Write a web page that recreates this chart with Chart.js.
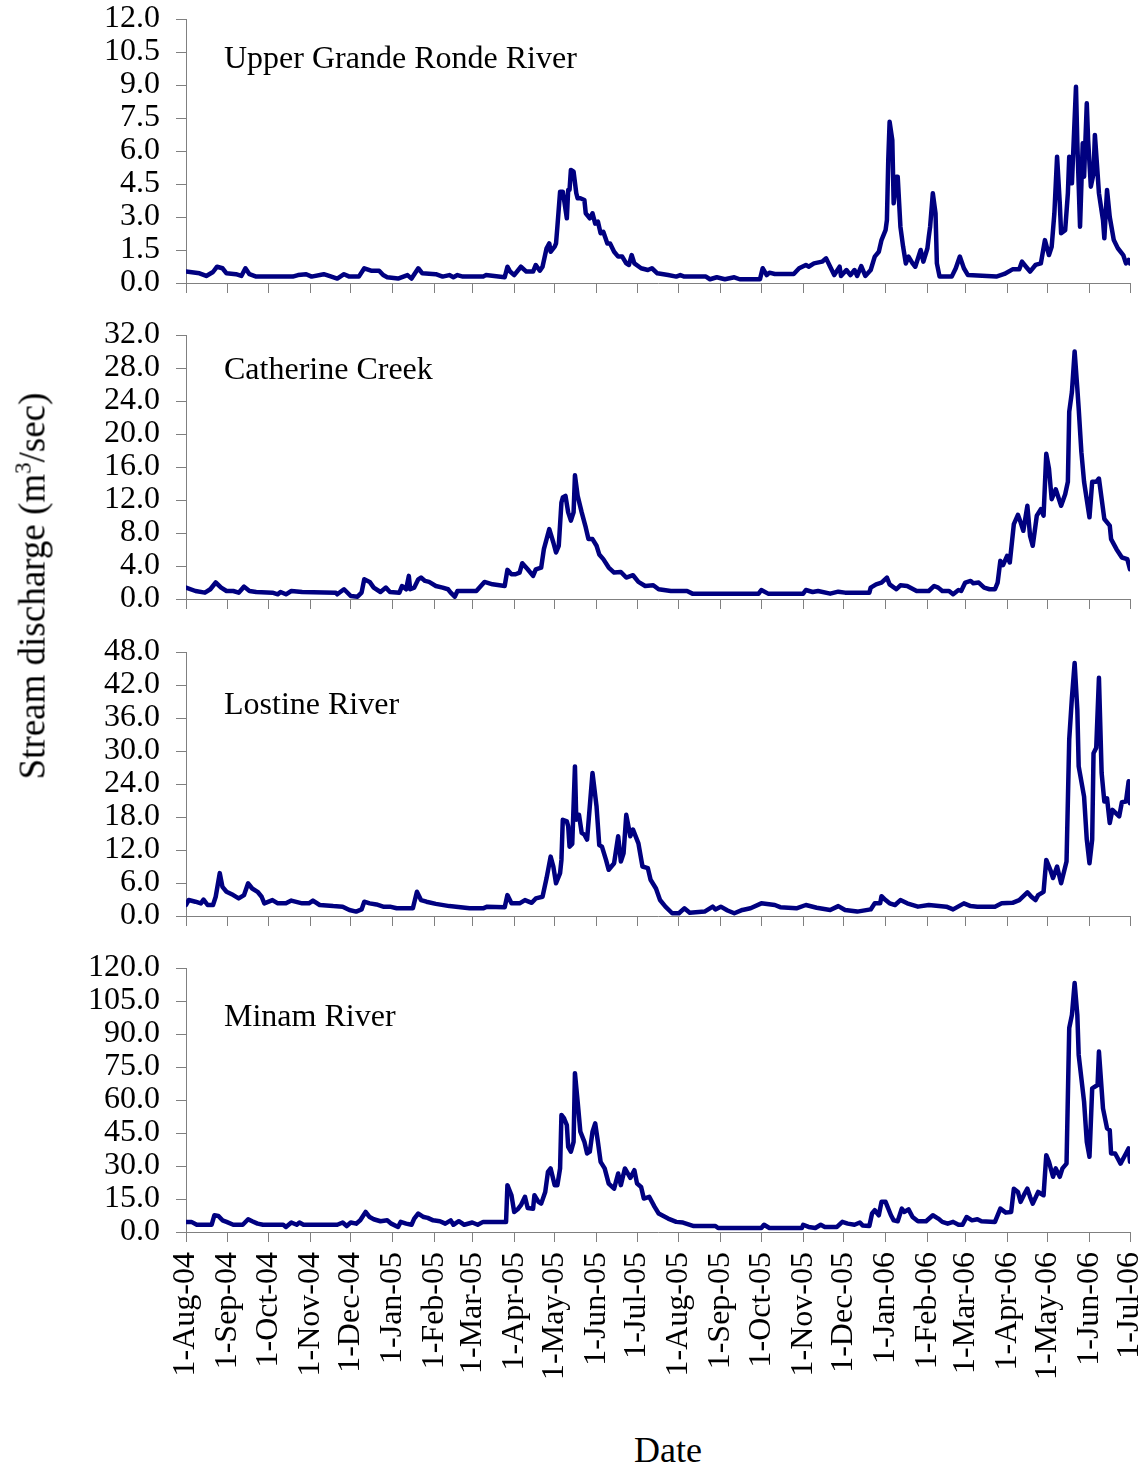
<!DOCTYPE html>
<html>
<head>
<meta charset="utf-8">
<script src="https://cdn.jsdelivr.net/npm/chart.js@4.4.1/dist/chart.umd.min.js"></script>
<style>
  body { margin: 0; background: #fff; width: 1146px; height: 1469px; position: relative; overflow: hidden;
         font-family: 'Liberation Serif', 'Times New Roman', serif; color: #000; }
  .panel { position: absolute; left: 0; width: 1146px; }
  #ytitle { position: absolute; left: 32px; top: 586px; transform: translate(-50%, -50%) rotate(-90deg);
            white-space: nowrap; font-size: 37px; }
  #ytitle sup { font-size: 23px; vertical-align: 14px; line-height: 0; }
  #xtitle { position: absolute; left: 668px; top: 1450px; transform: translate(-50%, -50%); font-size: 36px; }
</style>
</head>
<body>
<div class="panel" style="top:-6px;height:309px"><canvas id="ugr"></canvas></div>
<div class="panel" style="top:310px;height:309px"><canvas id="cat"></canvas></div>
<div class="panel" style="top:627px;height:309px"><canvas id="los"></canvas></div>
<div class="panel" style="top:943px;height:457px"><canvas id="min"></canvas></div>
<div id="ytitle">Stream discharge (m<sup>3</sup>/sec)</div>
<div id="xtitle">Date</div>

<script>
// x values are days since 1-Aug-04
const tickDays = [0, 31, 61, 92, 122, 153, 184, 212, 243, 273, 304, 334,
                  365, 396, 426, 457, 487, 518, 549, 577, 608, 638, 669, 699];
const tickLabels = ['1-Aug-04', '1-Sep-04', '1-Oct-04', '1-Nov-04', '1-Dec-04', '1-Jan-05',
                    '1-Feb-05', '1-Mar-05', '1-Apr-05', '1-May-05', '1-Jun-05', '1-Jul-05',
                    '1-Aug-05', '1-Sep-05', '1-Oct-05', '1-Nov-05', '1-Dec-05', '1-Jan-06',
                    '1-Feb-06', '1-Mar-06', '1-Apr-06', '1-May-06', '1-Jun-06', '1-Jul-06'];

const riverNames = ['Upper Grande Ronde River', 'Catherine Creek', 'Lostine River', 'Minam River'];
const yMaxes = [12, 32, 48, 120];
const ySteps = [1.5, 4, 6, 15];

const ugrDays = [0,10,15,20,23,27,30,37,41,44,47,52,79,83,89,93,102,106,112,117,121,128,132,137,143,146,149,157,
  164,167,172,175,185,190,195,198,201,205,220,222,236,238,240,243,248,252,257,259,262,264,267,269,270,273,274,275,
  277,279,280,282,283,284,285,287,289,290,292,295,296,299,301,303,305,307,309,312,314,317,320,323,326,328,330,332,
  337,342,345,349,357,363,366,369,385,388,393,399,406,410,425,427,430,432,436,450,454,459,461,465,471,474,477,480,
  484,485,489,492,495,497,500,503,507,510,513,515,518,519,520,521,523,524,526,527,529,531,533,535,538,540,544,546,
  549,550,551,553,555,556,558,567,570,573,576,579,600,606,612,617,619,622,625,629,633,636,639,641,643,645,647,648,
  651,653,654,656,659,660,662,664,665,667,668,670,672,673,675,676,679,680,682,684,687,690,694,696,698,699];
const ugrFlow = [0.52,0.44,0.32,0.5,0.74,0.67,0.44,0.4,0.32,0.67,0.4,0.29,0.29,0.36,0.4,0.29,0.4,0.32,0.2,0.4,0.29,
  0.29,0.67,0.56,0.56,0.36,0.26,0.2,0.36,0.2,0.67,0.44,0.4,0.29,0.36,0.26,0.36,0.29,0.29,0.36,0.26,0.74,0.52,0.36,
  0.74,0.52,0.52,0.82,0.56,0.74,1.58,1.8,1.42,1.65,1.8,2.56,4.15,4.15,3.77,2.94,4.23,4.23,5.14,5.06,4.08,3.85,3.85,
  3.77,3.17,2.94,3.17,2.7,2.79,2.26,2.33,1.8,1.8,1.42,1.2,1.2,0.89,0.82,1.27,0.89,0.67,0.59,0.67,0.44,0.36,0.29,
  0.36,0.29,0.29,0.17,0.26,0.17,0.26,0.17,0.17,0.67,0.36,0.47,0.41,0.41,0.67,0.82,0.74,0.89,0.97,1.12,0.74,0.36,
  0.74,0.32,0.59,0.36,0.59,0.32,0.77,0.32,0.59,1.2,1.42,1.95,2.4,2.86,5.59,7.33,6.5,3.62,4.83,4.83,2.56,1.65,0.89,
  1.2,0.89,0.74,1.5,0.97,1.58,2.1,2.56,4.08,3.17,0.89,0.29,0.29,0.67,1.2,0.67,0.36,0.29,0.41,0.62,0.62,0.97,0.74,
  0.52,0.82,0.89,1.95,1.27,1.65,3.17,5.74,3.62,2.26,2.4,4.08,5.74,4.53,8.92,6.35,2.56,6.35,4.83,8.17,6.5,4.38,4.98,
  6.73,4.98,4.08,2.86,2.03,4.23,3.0,1.95,1.58,1.27,0.89,1.05,0.89];

const catDays = [0,7,14,18,22,26,30,35,39,43,47,52,64,68,70,74,78,86,111,112,117,122,127,130,132,136,139,144,148,
  151,158,160,163,165,166,169,172,174,177,180,185,190,194,196,199,201,215,221,227,236,238,241,244,247,249,253,257,
  259,263,265,269,272,274,276,278,279,281,283,285,287,288,290,293,296,298,301,304,306,309,313,317,322,326,331,335,
  340,346,350,359,371,375,424,426,431,457,459,464,468,477,483,488,506,507,511,515,519,521,526,529,534,541,550,554,
  557,560,565,568,572,574,577,581,583,587,591,595,599,601,603,605,608,610,613,616,618,620,623,625,627,630,633,635,
  637,639,641,644,648,651,653,654,656,658,660,661,663,665,669,671,674,676,680,684,685,689,693,697,699];
const catFlow = [1.38,0.97,0.77,1.18,2.0,1.38,0.97,0.97,0.77,1.5,0.97,0.85,0.77,0.57,0.85,0.57,0.97,0.85,0.77,0.57,
  1.18,0.36,0.28,0.77,2.39,2.07,1.38,0.85,1.38,0.85,0.77,1.58,1.18,2.8,1.18,1.38,2.39,2.6,2.19,2.07,1.58,1.38,1.18,
  0.77,0.28,0.97,0.97,2.07,1.78,1.58,3.53,3.0,3.0,3.2,4.34,3.6,2.8,3.6,3.81,6.04,8.47,6.85,5.64,6.45,11.7,12.3,
  12.5,10.5,9.5,10.5,15.0,12.5,10.5,8.68,7.26,7.26,6.45,5.4,4.83,3.81,3.2,3.28,2.6,2.88,2.07,1.58,1.66,1.18,0.97,
  0.97,0.65,0.65,1.09,0.65,0.65,1.09,0.85,0.97,0.65,0.89,0.77,0.77,1.38,1.78,1.99,2.6,1.78,1.18,1.66,1.58,0.97,
  0.97,1.58,1.38,0.97,0.97,0.57,1.09,0.97,1.99,2.19,1.9,1.99,1.38,1.18,1.18,1.99,4.62,4.1,5.23,4.42,9.08,10.2,9.29,
  8.27,11.3,7.66,6.45,10.1,10.9,10.1,17.6,15.8,12.1,13.3,11.3,12.7,14.2,22.7,25.1,30.0,25.5,23.1,17.8,14.2,9.9,
  14.2,14.2,14.6,9.7,8.9,7.26,6.04,5.03,4.83,3.6];

const losDays = [0,2,7,11,13,16,20,22,25,27,30,35,39,43,46,49,53,56,58,64,68,74,78,86,91,94,99,109,116,121,126,
  130,132,136,141,146,151,156,168,171,174,178,185,195,200,210,220,223,236,238,241,247,251,256,259,264,267,270,272,
  274,277,278,279,282,283,284,286,288,289,291,293,295,297,301,304,306,308,311,313,317,320,322,324,326,329,331,335,
  338,342,344,348,351,355,360,365,369,373,384,390,392,396,401,406,412,418,426,436,440,452,459,467,477,483,488,497,
  507,510,514,515,518,521,525,529,534,542,550,563,568,576,581,586,599,604,612,617,623,626,629,631,635,637,640,642,
  645,648,652,654,656,658,660,661,665,667,669,671,672,674,676,678,680,682,684,686,691,693,696,698,699];
const losFlow = [2.0,2.9,2.6,2.3,3.0,2.0,2.0,3.5,7.8,5.3,4.4,3.8,3.2,3.8,5.95,5.0,4.4,3.5,2.3,2.9,2.3,2.3,2.8,2.3,
  2.3,2.8,2.0,1.8,1.7,1.1,0.8,1.2,2.6,2.3,2.1,1.7,1.7,1.4,1.4,4.4,2.9,2.6,2.2,1.8,1.7,1.4,1.4,1.7,1.6,3.8,2.3,2.3,
  2.9,2.4,3.2,3.5,6.9,10.8,9.0,5.95,7.8,10.2,17.5,17.2,16.3,12.6,13.1,27.2,17.5,18.4,15.1,14.8,13.9,26.0,19.9,12.9,
  12.6,10.2,8.4,9.6,14.5,9.9,11.4,18.4,14.5,15.7,13.2,9.0,8.7,6.6,5.0,2.9,1.7,0.5,0.5,1.4,0.6,0.8,1.7,1.2,1.7,1.0,
  0.5,1.1,1.4,2.3,2.0,1.6,1.4,2.0,1.5,1.1,1.8,1.1,0.8,1.2,2.3,2.3,3.6,2.9,2.3,2.0,2.9,2.3,1.7,2.0,1.7,1.2,2.3,1.8,
  1.7,1.7,2.3,2.4,2.9,4.3,3.5,2.9,3.8,4.4,10.2,8.4,6.9,9.0,5.95,9.9,32.1,39.7,46.0,37.5,27.2,21.7,13.9,9.6,13.9,
  29.6,30.6,43.3,26.0,20.8,21.4,16.9,19.3,18.1,20.7,20.8,24.5,20.5];

const minDays = [0,4,8,19,21,24,27,30,35,42,46,49,53,57,72,74,78,82,84,87,112,116,119,122,126,129,133,136,139,144,
  149,152,157,159,163,167,169,172,176,179,183,188,192,196,198,202,206,212,216,220,237,238,241,243,246,248,251,253,
  257,258,261,263,266,268,270,273,275,277,278,280,282,283,285,287,288,290,292,295,297,299,301,303,305,307,310,313,
  317,320,322,325,329,332,334,337,339,343,347,350,357,363,368,376,392,394,426,428,432,456,457,461,466,470,473,482,
  486,490,495,499,501,506,508,510,513,515,518,522,524,527,530,532,535,538,542,548,553,557,560,564,568,572,575,578,
  582,586,589,599,603,607,611,613,616,618,621,623,625,627,631,635,637,639,642,644,647,649,652,654,656,658,660,661,
  665,667,669,671,675,676,679,682,684,685,688,692,696,698,699];
const minFlow = [4.6,4.6,3.3,3.3,7.6,7.3,5.3,4.6,3.3,3.3,5.8,4.9,3.8,3.3,3.3,2.3,4.3,3.3,4.3,3.3,3.3,4.3,2.7,4.3,3.8,
  5.3,9.1,6.8,5.8,4.9,5.3,3.8,2.3,4.6,3.8,3.3,6.1,8.4,6.8,6.4,5.3,4.9,3.8,5.3,3.3,4.9,3.3,4.3,3.3,4.6,4.6,21.3,16.7,
  9.1,10.6,12.2,16.0,10.9,10.6,16.7,13.7,12.9,18.2,27.3,28.9,21.3,21.3,28.9,53.2,51.6,48.6,38.7,36.5,41.0,72.2,59.2,
  45.6,41.0,35.7,36.5,45.6,49.4,41.0,31.9,28.9,22.0,19.7,26.6,21.3,28.9,24.6,28.1,22.0,20.5,15.2,16.0,11.4,8.4,6.1,
  4.6,4.3,2.7,2.7,1.8,1.8,3.3,1.8,1.8,3.3,2.3,1.8,3.3,2.3,2.3,4.6,3.8,3.3,4.3,3.0,2.7,8.4,9.9,7.6,13.7,13.7,7.6,5.3,
  4.9,10.6,9.1,10.3,6.8,4.9,4.9,7.6,6.1,4.6,3.8,4.6,3.3,3.3,6.8,5.3,5.8,4.9,4.6,10.6,8.8,9.1,19.7,18.2,13.7,17.5,
  19.7,16.0,12.9,18.2,16.7,34.9,31.9,25.1,28.9,25.1,28.9,31.1,92.7,98.7,113.2,98.7,80.5,59.2,41.0,34.2,65.3,66.8,
  82.0,56.2,47.1,46.3,35.7,35.7,31.1,35.7,38.0,31.9];

Chart.defaults.font.family = "'Liberation Serif', 'Times New Roman', serif";
Chart.defaults.color = '#000';
Chart.defaults.animation = false;

const AXIS = '#808080';

// panel name inside the plot, and the rotated month labels under the last panel
const panelText = {
  id: 'panelText',
  afterDraw(chart, args, opts) {
    const ctx = chart.ctx, area = chart.chartArea;
    ctx.save();
    ctx.fillStyle = '#000';
    ctx.font = "32px 'Liberation Serif', 'Times New Roman', serif";
    ctx.textBaseline = 'alphabetic';
    ctx.fillText(opts.title, area.left + 38, area.top + opts.titleY);
    if (opts.dates) {
      const xs = chart.scales.x;
      ctx.textAlign = 'right';
      ctx.textBaseline = 'middle';
      tickDays.forEach((d, i) => {
        ctx.save();
        ctx.translate(xs.getPixelForValue(d), area.bottom + 20);
        ctx.rotate(-Math.PI / 2);
        ctx.fillText(tickLabels[i], 0, 0);
        ctx.restore();
      });
    }
    ctx.restore();
  }
};

function makePanel(id, idx, days, flow, titleY, dates) {
  new Chart(document.getElementById(id), {
    type: 'line',
    data: {
      datasets: [{
        data: days.map((d, i) => ({ x: d, y: flow[i] })),
        borderColor: '#000080',
        borderWidth: 4.5,
        pointRadius: 0,
        tension: 0,
        borderJoinStyle: 'round',
        borderCapStyle: 'round'
      }]
    },
    options: {
      responsive: true,
      maintainAspectRatio: false,
      layout: { padding: { left: 0, right: 16, top: 25, bottom: dates ? 158 : 10 } },
      plugins: {
        legend: { display: false },
        tooltip: { enabled: false },
        panelText: { title: riverNames[idx], titleY: titleY, dates: dates }
      },
      scales: {
        x: {
          type: 'linear',
          min: 0,
          max: 699,
          afterBuildTicks: s => { s.ticks = tickDays.map(v => ({ value: v })); },
          afterFit: s => { s.height = 10; s.paddingLeft = 0; s.paddingRight = 0; },
          ticks: { display: false },
          grid: { drawOnChartArea: false, drawTicks: true, tickLength: 10, color: AXIS, lineWidth: 1 },
          border: { color: AXIS, width: 1 }
        },
        y: {
          min: 0,
          max: yMaxes[idx],
          // fixed width, and no extra room for the half labels at the ends
          afterFit: s => { s.width = 186; s.paddingTop = 0; s.paddingBottom = 0; },
          ticks: {
            stepSize: ySteps[idx],
            autoSkip: false,
            padding: 16,
            font: { size: 32, lineHeight: 1 },
            callback: v => v.toFixed(1)
          },
          grid: { drawOnChartArea: false, drawTicks: true, tickLength: 10, color: AXIS, lineWidth: 1 },
          border: { color: AXIS, width: 1 }
        }
      }
    },
    plugins: [panelText]
  });
}

makePanel('ugr', 0, ugrDays, ugrFlow, 49, false);
makePanel('cat', 1, catDays, catFlow, 44, false);
makePanel('los', 2, losDays, losFlow, 62, false);
makePanel('min', 3, minDays, minFlow, 58, true);
</script>
</body>
</html>
